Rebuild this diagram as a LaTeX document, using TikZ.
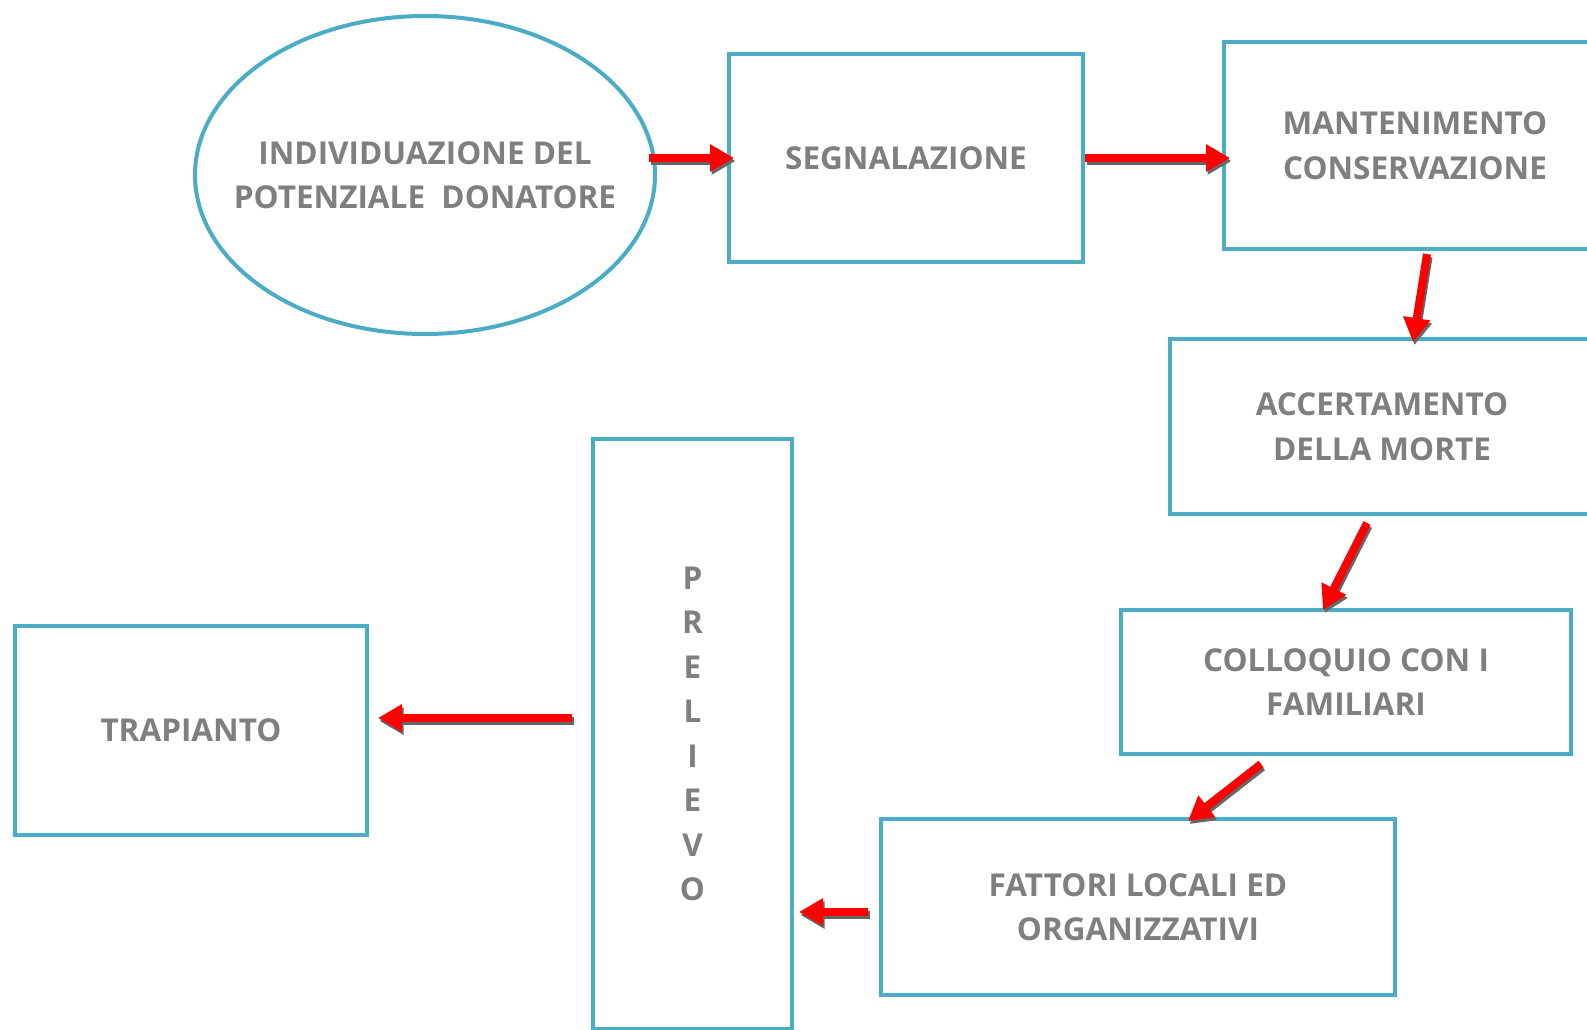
\documentclass[tikz,border=0pt]{standalone}
\usepackage{fontspec}
\setmainfont{Open Sans}
\usetikzlibrary{shapes.geometric,arrows.meta}
\definecolor{boxblue}{HTML}{4BACC6}
\definecolor{txtgray}{HTML}{7F7F7F}
\definecolor{arrred}{HTML}{FF0000}
\tikzset{
  box/.style={draw=boxblue, line width=4pt, fill=white, inner sep=0pt, align=center,
    text=txtgray, font=\fontsize{31.5}{44.5}\selectfont\bfseries},
  oval/.style={box, ellipse, inner xsep=-100pt, inner ysep=-60pt},
  flow/.style={draw=arrred, line width=8pt, -{Triangle[length=24pt,width=26pt]}},
  flowshadow/.style={draw=black!60, line width=8pt, -{Triangle[length=24pt,width=26pt]}},
}
% red connector with a dark drop shadow underneath
\newcommand\flowarrow[2]{%
  \draw[flowshadow, transform canvas={shift={(1.5pt,-3pt)}}] #1 -- #2;
  \draw[flow] #1 -- #2;}
\begin{document}
\begin{tikzpicture}[x=1pt, y=-1pt]
\clip (0,0) rectangle (1587,1030);
\fill[white] (0,0) rectangle (1587,1030);

\node[oval, minimum width=460pt, minimum height=318pt] (ind) at (425,175)
  {INDIVIDUAZIONE DEL\\POTENZIALE~~DONATORE};
\node[box, minimum width=354pt, minimum height=208pt] (seg) at (906,158) {SEGNALAZIONE};
\node[box, minimum width=382pt, minimum height=207pt] (man) at (1415,145.5)
  {MANTENIMENTO\\CONSERVAZIONE};
\node[box, minimum width=424pt, minimum height=175pt] (acc) at (1382,426.5)
  {ACCERTAMENTO\\DELLA MORTE};
\node[box, minimum width=450pt, minimum height=144pt] (col) at (1346,682)
  {COLLOQUIO CON I\\FAMILIARI};
\node[box, minimum width=514pt, minimum height=176pt] (fat) at (1138,907)
  {FATTORI LOCALI ED\\ORGANIZZATIVI};
\node[box, minimum width=199pt, minimum height=590pt] (pre) at (692.5,734)
  {P\\R\\E\\L\\I\\E\\V\\O};
\node[box, minimum width=352pt, minimum height=209pt] (tra) at (191,730.5) {TRAPIANTO};

\flowarrow{([shift={(-8,-17)}]ind.east)}{([shift={(7,0)}]seg.west)}
\flowarrow{(seg.east)}{([shift={(8,12.5)}]man.west)}
\flowarrow{([shift={(12,3)}]man.south)}{([shift={(31,5)}]acc.north)}
\flowarrow{([shift={(-15,7)}]acc.south)}{([shift={(-23,2)}]col.north)}
\flowarrow{([shift={(-85,8)}]col.south)}{([shift={(50,4)}]fat.north)}
\flowarrow{([shift={(-11,5)}]fat.west)}{([shift={(5,178)}]pre.east)}
\flowarrow{([shift={(-19,-16)}]pre.west)}{([shift={(9,-12.5)}]tra.east)}
\end{tikzpicture}
\end{document}
